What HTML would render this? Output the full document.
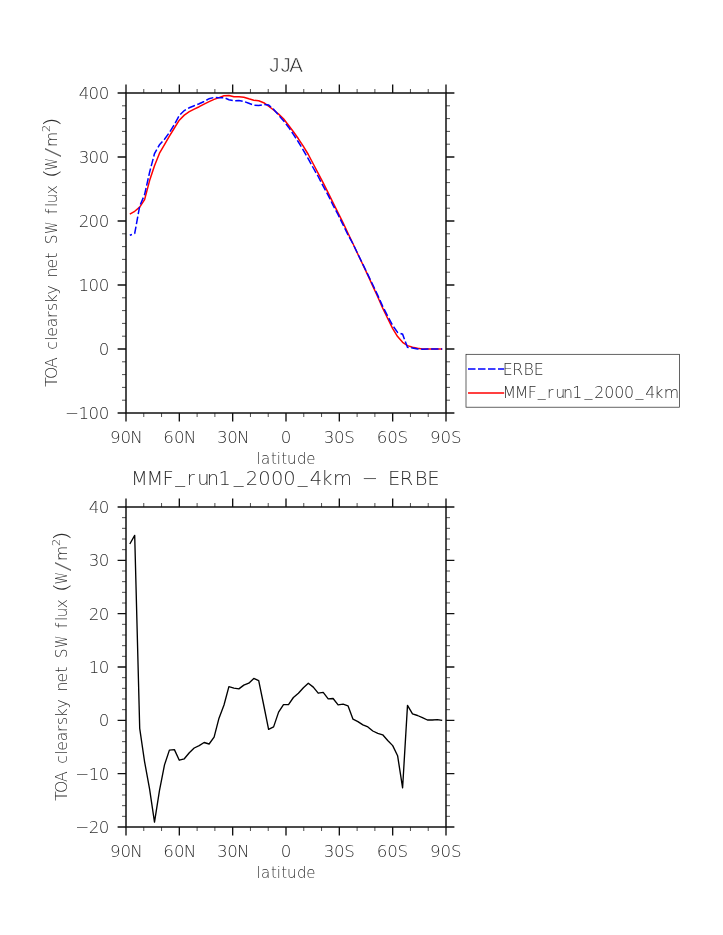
<!DOCTYPE html>
<html><head><meta charset="utf-8"><title>JJA TOA clearsky net SW flux</title>
<style>
html,body{margin:0;padding:0;background:#fff;}
svg{display:block;}
text{font-family:"DejaVu Sans Light","Liberation Sans",sans-serif;font-weight:200;fill:#2e2e2e;white-space:pre;}
</style></head><body>
<svg width="723" height="935" viewBox="0 0 723 935">
<rect width="723" height="935" fill="#fff"/>

<g stroke="#111" fill="none">
<path d="M143.78,89.00V93.0M143.78,413.0V417.00M161.56,89.00V93.0M161.56,413.0V417.00M197.11,89.00V93.0M197.11,413.0V417.00M214.89,89.00V93.0M214.89,413.0V417.00M250.44,89.00V93.0M250.44,413.0V417.00M268.22,89.00V93.0M268.22,413.0V417.00M303.78,89.00V93.0M303.78,413.0V417.00M321.56,89.00V93.0M321.56,413.0V417.00M357.11,89.00V93.0M357.11,413.0V417.00M374.89,89.00V93.0M374.89,413.0V417.00M410.44,89.00V93.0M410.44,413.0V417.00M428.22,89.00V93.0M428.22,413.0V417.00M122.00,400.20H126.0M446.0,400.20H450.00M122.00,387.40H126.0M446.0,387.40H450.00M122.00,374.60H126.0M446.0,374.60H450.00M122.00,361.80H126.0M446.0,361.80H450.00M122.00,336.20H126.0M446.0,336.20H450.00M122.00,323.40H126.0M446.0,323.40H450.00M122.00,310.60H126.0M446.0,310.60H450.00M122.00,297.80H126.0M446.0,297.80H450.00M122.00,272.20H126.0M446.0,272.20H450.00M122.00,259.40H126.0M446.0,259.40H450.00M122.00,246.60H126.0M446.0,246.60H450.00M122.00,233.80H126.0M446.0,233.80H450.00M122.00,208.20H126.0M446.0,208.20H450.00M122.00,195.40H126.0M446.0,195.40H450.00M122.00,182.60H126.0M446.0,182.60H450.00M122.00,169.80H126.0M446.0,169.80H450.00M122.00,144.20H126.0M446.0,144.20H450.00M122.00,131.40H126.0M446.0,131.40H450.00M122.00,118.60H126.0M446.0,118.60H450.00M122.00,105.80H126.0M446.0,105.80H450.00" stroke-width="0.8" stroke="#222"/>
<path d="M126.00,84.60V93.0M126.00,413.0V421.40M179.33,84.60V93.0M179.33,413.0V421.40M232.67,84.60V93.0M232.67,413.0V421.40M286.00,84.60V93.0M286.00,413.0V421.40M339.33,84.60V93.0M339.33,413.0V421.40M392.67,84.60V93.0M392.67,413.0V421.40M446.00,84.60V93.0M446.00,413.0V421.40M117.60,413.00H126.0M446.0,413.00H454.40M117.60,349.00H126.0M446.0,349.00H454.40M117.60,285.00H126.0M446.0,285.00H454.40M117.60,221.00H126.0M446.0,221.00H454.40M117.60,157.00H126.0M446.0,157.00H454.40M117.60,93.00H126.0M446.0,93.00H454.40" stroke-width="1.35"/>
<rect x="126.0" y="93.0" width="320.0" height="320.0" stroke-width="1.5"/>
</g>
<text font-size="16.7" x="78.70 88.62 98.77" y="99.10">400</text>
<text font-size="16.7" x="78.68 88.62 98.77" y="163.10">300</text>
<text font-size="16.7" x="78.69 88.62 98.77" y="227.10">200</text>
<text font-size="16.7" x="78.49 88.62 98.77" y="291.10">100</text>
<text font-size="16.7" x="98.77" y="355.10">0</text>
<text font-size="16.7" x="65.05 78.49 88.62 98.77" y="419.10">−100</text>
<text font-size="16.7" x="110.00 120.62 130.31" y="443.00">90N</text>
<text font-size="16.7" x="163.34 173.95 183.65" y="443.00">60N</text>
<text font-size="16.7" x="216.99 227.28 236.98" y="443.00">30N</text>
<text font-size="16.7" x="280.72" y="443.00">0</text>
<text font-size="16.7" x="323.66 333.95 344.27" y="443.00">30S</text>
<text font-size="16.7" x="376.67 387.28 397.61" y="443.00">60S</text>
<text font-size="16.7" x="430.00 440.62 450.94" y="443.00">90S</text>
<path d="M129.8,214.1 L134.7,211.3 L139.7,207.1 L144.6,199.6 L149.6,180.6 L154.5,165.8 L159.5,153.2 L164.5,144.6 L169.4,136.1 L174.4,128.0 L179.3,120.2 L184.3,115.1 L189.3,111.7 L194.2,109.1 L199.2,106.7 L204.1,104.1 L209.1,101.6 L214.1,99.4 L219.0,97.6 L224.0,95.8 L228.9,95.6 L233.9,96.8 L238.9,96.7 L243.8,97.2 L248.8,98.8 L253.8,100.2 L258.7,100.8 L263.7,102.7 L268.6,106.1 L273.6,110.0 L278.6,114.1 L283.5,118.8 L288.5,125.3 L293.4,131.7 L298.4,138.8 L303.4,146.3 L308.3,154.5 L313.3,164.0 L318.2,173.3 L323.2,182.8 L328.2,192.8 L333.1,202.8 L338.1,212.8 L343.1,222.9 L348.0,233.3 L353.0,243.8 L357.9,254.3 L362.9,264.8 L367.9,275.4 L372.8,286.1 L377.8,297.0 L382.7,308.1 L387.7,318.5 L392.7,328.6 L397.6,336.6 L402.6,342.3 L407.5,345.6 L412.5,347.2 L417.5,348.3 L422.4,348.9 L427.4,349.0 L432.3,349.0 L437.3,349.0 L442.2,349.0" fill="none" stroke="#ff0000" stroke-width="1.5" stroke-linejoin="round"/>
<path d="M129.8,235.3 L134.7,233.5 L139.7,206.1 L144.6,194.6 L149.6,172.3 L154.5,153.6 L159.5,144.8 L164.5,139.2 L169.4,132.5 L174.4,124.5 L179.3,115.4 L184.3,110.5 L189.3,107.8 L194.2,105.7 L199.2,103.7 L204.1,101.5 L209.1,98.7 L214.1,97.4 L219.0,97.8 L224.0,97.6 L228.9,99.7 L233.9,100.7 L238.9,100.5 L243.8,101.4 L248.8,103.3 L253.8,105.2 L258.7,105.6 L263.7,104.5 L268.6,105.0 L273.6,109.3 L278.6,115.1 L283.5,120.7 L288.5,127.2 L293.4,134.4 L298.4,142.0 L303.4,150.3 L308.3,158.9 L313.3,168.0 L318.2,176.5 L323.2,186.2 L328.2,195.4 L333.1,205.4 L338.1,214.7 L343.1,224.9 L348.0,235.0 L353.0,243.9 L357.9,254.1 L362.9,264.3 L367.9,274.6 L372.8,284.8 L377.8,295.4 L382.7,306.4 L387.7,316.1 L392.7,325.6 L397.6,332.4 L402.6,334.2 L407.5,347.4 L412.5,347.9 L417.5,348.9 L422.4,349.2 L427.4,349.0 L432.3,349.0 L437.3,349.1 L442.2,349.0" fill="none" stroke="#0000ff" stroke-width="1.5" stroke-dasharray="7.5 2.5" stroke-dashoffset="5.2"/>
<text style="font-family:'Liberation Sans',sans-serif;font-weight:400" fill="#333" stroke="#fff" stroke-width="0.6" font-size="20.5" x="269.28 280.38 289.16" y="72.0">JJA</text>
<text font-size="15.0" x="256.43 261.04 270.93 276.78 281.13 287.09 296.90 306.16" y="464.30">latitude</text>
<text transform="rotate(-90)"><tspan font-size="15.6" x="-386.76 -378.94 -367.91 -357.24 -349.64 -340.82 -336.83 -327.14 -317.99 -310.99 -303.30 -294.52 -285.28 -277.49 -268.43 -258.78 -252.67 -244.31" y="56.80">TOA clearsky net S</tspan><tspan font-size="15.6" x="-233.86" y="56.80" textLength="12.21" lengthAdjust="spacingAndGlyphs">W</tspan><tspan font-size="15.6" x="0.00 -214.27 -206.92 -203.60 -194.32 -185.08" y="56.80"> flux </tspan><tspan font-size="18.72" x="-178.42" y="57.90" textLength="9.88" lengthAdjust="spacingAndGlyphs">(</tspan><tspan font-size="15.6" x="-170.36" y="56.80" textLength="12.21" lengthAdjust="spacingAndGlyphs">W</tspan><tspan font-size="20.28" x="-157.56" y="58.50" textLength="9.92" lengthAdjust="spacingAndGlyphs" fill="#666">/</tspan><tspan font-size="15.6" x="-146.95" y="56.80">m</tspan><tspan font-size="11.2" x="-131.99" y="50.40">2</tspan><tspan font-size="18.72" x="-126.92" y="57.90" textLength="9.88" lengthAdjust="spacingAndGlyphs">)</tspan></text>
<rect x="466" y="354.3" width="213.4" height="52.9" fill="#fff" stroke="#222" stroke-width="0.7"/>
<path d="M468,369H504.2" stroke="#0000ff" stroke-width="1.5" stroke-dasharray="7.5 2.5" fill="none"/>
<path d="M468,393H504.2" stroke="#ff0000" stroke-width="1.5" fill="none"/>
<text font-size="15.8" x="502.65 512.16 523.39 533.85" y="374.80">ERBE</text>
<text font-size="15.8" x="502.48 514.85 527.63 537.79 547.09 555.37 563.02 572.36 584.59 594.13 604.13 614.27 624.00 635.54 645.13 654.27 663.70" y="398.00 398.00 398.00 395.50 398.00 398.00 398.00 398.00 395.50 398.00 398.00 398.00 398.00 395.50 398.00 398.00 398.00">MMF_run1_2000_4km</text>
<g stroke="#111" fill="none">
<path d="M143.78,503.00V507.0M143.78,827.0V831.00M161.56,503.00V507.0M161.56,827.0V831.00M197.11,503.00V507.0M197.11,827.0V831.00M214.89,503.00V507.0M214.89,827.0V831.00M250.44,503.00V507.0M250.44,827.0V831.00M268.22,503.00V507.0M268.22,827.0V831.00M303.78,503.00V507.0M303.78,827.0V831.00M321.56,503.00V507.0M321.56,827.0V831.00M357.11,503.00V507.0M357.11,827.0V831.00M374.89,503.00V507.0M374.89,827.0V831.00M410.44,503.00V507.0M410.44,827.0V831.00M428.22,503.00V507.0M428.22,827.0V831.00M122.00,816.33H126.0M446.0,816.33H450.00M122.00,805.67H126.0M446.0,805.67H450.00M122.00,795.00H126.0M446.0,795.00H450.00M122.00,784.33H126.0M446.0,784.33H450.00M122.00,763.00H126.0M446.0,763.00H450.00M122.00,752.33H126.0M446.0,752.33H450.00M122.00,741.67H126.0M446.0,741.67H450.00M122.00,731.00H126.0M446.0,731.00H450.00M122.00,709.67H126.0M446.0,709.67H450.00M122.00,699.00H126.0M446.0,699.00H450.00M122.00,688.33H126.0M446.0,688.33H450.00M122.00,677.67H126.0M446.0,677.67H450.00M122.00,656.33H126.0M446.0,656.33H450.00M122.00,645.67H126.0M446.0,645.67H450.00M122.00,635.00H126.0M446.0,635.00H450.00M122.00,624.33H126.0M446.0,624.33H450.00M122.00,603.00H126.0M446.0,603.00H450.00M122.00,592.33H126.0M446.0,592.33H450.00M122.00,581.67H126.0M446.0,581.67H450.00M122.00,571.00H126.0M446.0,571.00H450.00M122.00,549.67H126.0M446.0,549.67H450.00M122.00,539.00H126.0M446.0,539.00H450.00M122.00,528.33H126.0M446.0,528.33H450.00M122.00,517.67H126.0M446.0,517.67H450.00" stroke-width="0.8" stroke="#222"/>
<path d="M126.00,498.60V507.0M126.00,827.0V835.40M179.33,498.60V507.0M179.33,827.0V835.40M232.67,498.60V507.0M232.67,827.0V835.40M286.00,498.60V507.0M286.00,827.0V835.40M339.33,498.60V507.0M339.33,827.0V835.40M392.67,498.60V507.0M392.67,827.0V835.40M446.00,498.60V507.0M446.00,827.0V835.40M117.60,827.00H126.0M446.0,827.00H454.40M117.60,773.67H126.0M446.0,773.67H454.40M117.60,720.33H126.0M446.0,720.33H454.40M117.60,667.00H126.0M446.0,667.00H454.40M117.60,613.67H126.0M446.0,613.67H454.40M117.60,560.33H126.0M446.0,560.33H454.40M117.60,507.00H126.0M446.0,507.00H454.40" stroke-width="1.35"/>
<rect x="126.0" y="507.0" width="320.0" height="320.0" stroke-width="1.5"/>
</g>
<text font-size="16.7" x="88.85 98.77" y="513.10">40</text>
<text font-size="16.7" x="88.83 98.77" y="566.43">30</text>
<text font-size="16.7" x="88.84 98.77" y="619.77">20</text>
<text font-size="16.7" x="88.64 98.77" y="673.10">10</text>
<text font-size="16.7" x="98.77" y="726.43">0</text>
<text font-size="16.7" x="75.20 88.64 98.77" y="779.77">−10</text>
<text font-size="16.7" x="75.20 88.84 98.77" y="833.10">−20</text>
<text font-size="16.7" x="110.00 120.62 130.31" y="857.00">90N</text>
<text font-size="16.7" x="163.34 173.95 183.65" y="857.00">60N</text>
<text font-size="16.7" x="216.99 227.28 236.98" y="857.00">30N</text>
<text font-size="16.7" x="280.72" y="857.00">0</text>
<text font-size="16.7" x="323.66 333.95 344.27" y="857.00">30S</text>
<text font-size="16.7" x="376.67 387.28 397.61" y="857.00">60S</text>
<text font-size="16.7" x="430.00 440.62 450.94" y="857.00">90S</text>
<path d="M129.8,544.0 L134.7,535.4 L139.7,728.3 L144.6,761.8 L149.6,789.2 L154.5,822.1 L159.5,790.3 L164.5,764.9 L169.4,750.1 L174.4,749.6 L179.3,760.2 L184.3,758.8 L189.3,752.7 L194.2,748.0 L199.2,745.6 L204.1,742.5 L209.1,744.0 L214.1,737.1 L219.0,718.2 L224.0,705.0 L228.9,686.7 L233.9,688.1 L238.9,688.9 L243.8,685.1 L248.8,683.2 L253.8,678.4 L258.7,680.6 L263.7,705.0 L268.6,729.3 L273.6,726.9 L278.6,712.1 L283.5,704.6 L288.5,704.6 L293.4,697.5 L298.4,693.2 L303.4,687.7 L308.3,683.2 L313.3,687.1 L318.2,693.2 L323.2,692.4 L328.2,698.9 L333.1,698.5 L338.1,704.9 L343.1,704.2 L348.0,705.8 L353.0,719.2 L357.9,721.6 L362.9,724.9 L367.9,726.9 L372.8,731.0 L377.8,733.4 L382.7,734.8 L387.7,740.5 L392.7,745.6 L397.6,755.7 L402.6,787.8 L407.5,705.4 L412.5,713.9 L417.5,715.5 L422.4,717.6 L427.4,720.0 L432.3,720.0 L437.3,719.6 L442.2,720.4" fill="none" stroke="#000" stroke-width="1.35" stroke-linejoin="round"/>
<text font-size="19.5" x="130.99 146.49 162.47 175.18 186.84 197.23 206.81 218.51 233.82 245.80 258.33 271.03 283.23 297.68 309.70 321.17 333.04 352.03 361.83 378.17 388.08 399.85 414.63 427.28" y="485.20 485.20 485.20 482.12 485.20 485.20 485.20 485.20 482.12 485.20 485.20 485.20 485.20 482.12 485.20 485.20 485.20 485.20 485.20 485.20 485.20 485.20 485.20 485.20">MMF_run1_2000_4km − ERBE</text>
<text font-size="15.0" x="256.43 261.04 270.93 276.78 281.13 287.09 296.90 306.16" y="878.30">latitude</text>
<text transform="rotate(-90)"><tspan font-size="15.6" x="-800.76 -792.94 -781.91 -771.24 -763.64 -754.82 -750.83 -741.14 -731.99 -724.99 -717.30 -708.52 -699.28 -691.49 -682.43 -672.78 -666.67 -658.31" y="66.80">TOA clearsky net S</tspan><tspan font-size="15.6" x="-647.86" y="66.80" textLength="12.21" lengthAdjust="spacingAndGlyphs">W</tspan><tspan font-size="15.6" x="0.00 -628.27 -620.92 -617.60 -608.32 -599.08" y="66.80"> flux </tspan><tspan font-size="18.72" x="-592.42" y="67.90" textLength="9.88" lengthAdjust="spacingAndGlyphs">(</tspan><tspan font-size="15.6" x="-584.36" y="66.80" textLength="12.21" lengthAdjust="spacingAndGlyphs">W</tspan><tspan font-size="20.28" x="-571.56" y="68.50" textLength="9.92" lengthAdjust="spacingAndGlyphs" fill="#666">/</tspan><tspan font-size="15.6" x="-560.95" y="66.80">m</tspan><tspan font-size="11.2" x="-545.99" y="60.40">2</tspan><tspan font-size="18.72" x="-540.92" y="67.90" textLength="9.88" lengthAdjust="spacingAndGlyphs">)</tspan></text>
</svg></body></html>
